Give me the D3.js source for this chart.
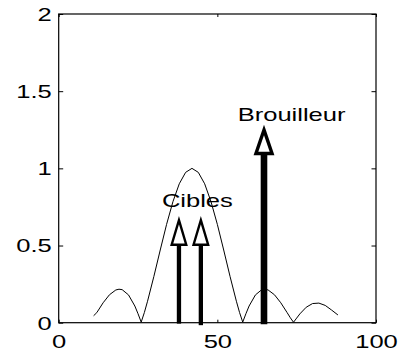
<!DOCTYPE html>
<html>
<head>
<meta charset="utf-8">
<script src="https://cdn.jsdelivr.net/npm/d3@7"></script>
<style>
  body { margin: 0; background: #fff; }
  svg { display: block; }
</style>
</head>
<body>
<script>
// beam pattern
var beamX = [11, 12, 14, 16, 18, 19, 20, 22, 24, 25, 26, 27, 28, 30, 32, 34, 36, 38, 40, 42,
             44, 46, 48, 50, 52, 54, 56, 57, 58, 59, 60, 62, 64, 65, 66, 68, 70, 72, 73, 74,
             75, 76, 78, 80, 82, 84, 86, 88];
var beamY = [0.045, 0.065, 0.129, 0.181, 0.212, 0.217, 0.214, 0.180, 0.108, 0.058, 0.004, 0.066, 0.139, 0.300, 0.471, 0.637, 0.784, 0.900, 0.974, 1.0,
             0.974, 0.900, 0.784, 0.637, 0.471, 0.300, 0.139, 0.066, 0.004, 0.058, 0.108, 0.180, 0.214, 0.217, 0.212, 0.181, 0.129, 0.065, 0.032, 0.003,
             0.030, 0.057, 0.100, 0.124, 0.127, 0.112, 0.082, 0.050];

// arrows (targets and jammer)
var arrowKind = ["cible", "cible", "brouilleur"];
var arrowX = [37.9, 44.8, 64.7];
var arrowTop = [0.672, 0.672, 1.26];
var arrowBottom = [-0.006, -0.016, -0.01];

var labelText = ["Cibles", "Brouilleur"];
var labelX = [43.7, 73.4];
var labelY = [0.747, 1.309];

var xTicks = [0, 50, 100];
var yTicks = [0, 0.5, 1, 1.5, 2];

var _width = 406, _height = 358;
var _margins = { left: 58.7, right: 376, top: 14, bottom: 322.7 };
var stretch = 1.46;   // text in the picture is wider than tall
var font = "'Liberation Sans', Arial, Helvetica, sans-serif";

var arrowStyle = {
    cible: { shaft: 4.3, headW: 17, headH: 27, stroke: 2.4 },
    brouilleur: { shaft: 6.6, headW: 19.5, headH: 27, stroke: 3.4 }
};

var x = d3.scaleLinear().domain([0, 100]).range([_margins.left, _margins.right]);
var y = d3.scaleLinear().domain([0, 2]).range([_margins.bottom, _margins.top]);

var svg = d3.select("body").append("svg")
    .attr("width", _width)
    .attr("height", _height);

// box
svg.append("rect")
    .attr("x", _margins.left)
    .attr("y", _margins.top)
    .attr("width", _margins.right - _margins.left)
    .attr("height", _margins.bottom - _margins.top)
    .attr("fill", "none")
    .attr("stroke", "#000")
    .attr("stroke-width", 1.2);

function styleAxis(g) {
    g.select(".domain").remove();
    g.selectAll("line").attr("stroke", "#000").attr("stroke-width", 1);
    g.attr("font-family", font).attr("font-size", 17.5);
    g.selectAll("text").attr("fill", "#000");
}

var xAxis = svg.append("g")
    .attr("transform", "translate(0," + _margins.bottom + ")")
    .call(d3.axisBottom(x).tickValues(xTicks).tickFormat(d3.format("d"))
        .tickSizeInner(-3).tickSizeOuter(0).tickPadding(13))
    .call(styleAxis);
xAxis.selectAll("text").attr("transform", "scale(" + stretch + ",1)");

svg.append("g")
    .attr("transform", "translate(0," + _margins.top + ")")
    .call(d3.axisTop(x).tickValues(xTicks).tickFormat("")
        .tickSizeInner(-3).tickSizeOuter(0))
    .call(styleAxis);

var yAxis = svg.append("g")
    .attr("transform", "translate(" + _margins.left + ",0)")
    .call(d3.axisLeft(y).tickValues(yTicks).tickFormat(d3.format("~g"))
        .tickSizeInner(-4.5).tickSizeOuter(0).tickPadding(4.8))
    .call(styleAxis);
yAxis.selectAll("text").attr("dy", "0.36em").attr("transform", "scale(" + stretch + ",1)");

svg.append("g")
    .attr("transform", "translate(" + _margins.right + ",0)")
    .call(d3.axisRight(y).tickValues(yTicks).tickFormat("")
        .tickSizeInner(-4.5).tickSizeOuter(0))
    .call(styleAxis);

// beam curve
var beam = beamX.map(function(d, i) { return { x: d, y: beamY[i] }; });
var line = d3.line()
    .x(function(d) { return x(d.x); })
    .y(function(d) { return y(d.y); });

svg.append("path")
    .datum(beam)
    .attr("d", line)
    .attr("fill", "none")
    .attr("stroke", "#000")
    .attr("stroke-width", 1);

// arrows
var arrows = arrowX.map(function(d, i) {
    return { x: d, top: arrowTop[i], bottom: arrowBottom[i], kind: arrowKind[i] };
});

var arrowG = svg.selectAll("g.arrow")
    .data(arrows)
    .enter()
    .append("g")
    .attr("class", "arrow");

arrowG.append("line")
    .attr("x1", function(d) { return x(d.x); })
    .attr("x2", function(d) { return x(d.x); })
    .attr("y1", function(d) { return y(d.bottom); })
    .attr("y2", function(d) { return y(d.top) + arrowStyle[d.kind].headH - 1; })
    .attr("stroke", "#000")
    .attr("stroke-width", function(d) { return arrowStyle[d.kind].shaft; });

arrowG.append("path")
    .attr("d", function(d) {
        var s = arrowStyle[d.kind],
            cx = x(d.x),
            ty = y(d.top),
            by = ty + s.headH - s.stroke / 2,
            hw = s.headW / 2 - s.stroke / 2;
        return "M" + cx + "," + (ty + s.stroke / 2) +
            "L" + (cx + hw) + "," + by +
            "L" + (cx - hw) + "," + by + "Z";
    })
    .attr("fill", "#fff")
    .attr("stroke", "#000")
    .attr("stroke-width", function(d) { return arrowStyle[d.kind].stroke; })
    .attr("stroke-linejoin", "miter");

// labels
svg.selectAll("text.label")
    .data(labelText)
    .enter()
    .append("text")
    .attr("class", "label")
    .attr("transform", function(d, i) {
        return "translate(" + x(labelX[i]) + "," + y(labelY[i]) + ") scale(" + stretch + ",1)";
    })
    .attr("text-anchor", "middle")
    .attr("font-family", font)
    .attr("font-size", 17.5)
    .attr("fill", "#000")
    .text(function(d) { return d; });
</script>
</body>
</html>
